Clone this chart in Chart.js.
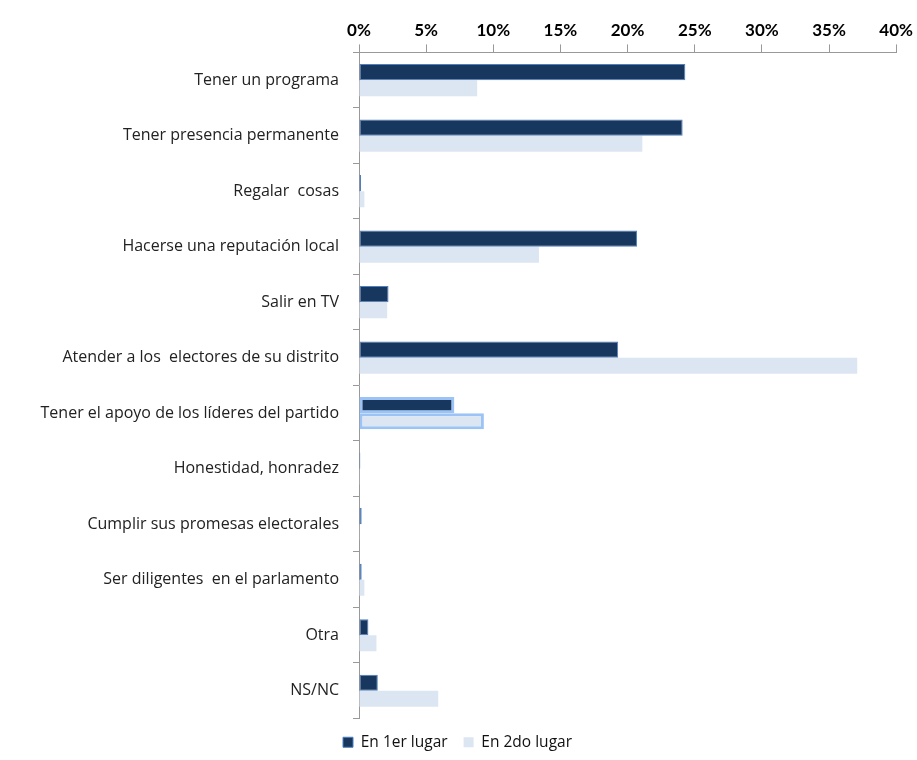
<!DOCTYPE html>
<html>
<head>
<meta charset="utf-8">
<script src="https://cdn.jsdelivr.net/npm/chart.js@4"></script>
<style>
  html, body { margin: 0; padding: 0; background: #fff; }
  #wrap { width: 917px; height: 760px; }
</style>
</head>
<body>
<div id="wrap"><canvas id="chart"></canvas></div>
<script>
const categories = [
    "Tener un programa",
    "Tener presencia permanente",
    "Regalar  cosas",
    "Hacerse una reputación local",
    "Salir en TV",
    "Atender a los  electores de su distrito",
    "Tener el apoyo de los líderes del partido",
    "Honestidad, honradez",
    "Cumplir sus promesas electorales",
    "Ser diligentes  en el parlamento",
    "Otra",
    "NS/NC",
];
const primerLugar = [24.3, 24.1, 0.15, 20.7, 2.2, 19.3, 7.1, 0.1, 0.2, 0.2, 0.7, 1.4];
const segundoLugar = [8.8, 21.1, 0.4, 13.4, 2.1, 37.1, 9.3, 0.05, 0.05, 0.4, 1.3, 5.9];
const seriesNames = ["En 1er lugar", "En 2do lugar"];

// resaltado del grupo seleccionado (Tener el apoyo...)
const sel = 6;
const bw = (base, hi) => categories.map((_, i) => (i === sel ? hi : base));

const ctx = document.getElementById("chart").getContext("2d");
new Chart(ctx, {
    type: "bar",
    data: {
        labels: categories,
        datasets: [
            {
                label: seriesNames[0],
                data: primerLugar,
                backgroundColor: "#17375E",
                borderColor: bw("#4F7FC0", "#9CC3F5"),
                borderWidth: bw(1, 3),
                borderSkipped: false,
                categoryPercentage: 0.58,
                barPercentage: 1,
            },
            {
                label: seriesNames[1],
                data: segundoLugar,
                backgroundColor: "#DCE6F2",
                borderColor: bw("#DCE6F2", "#9CC3F5"),
                borderWidth: bw(0, 3),
                borderSkipped: false,
                categoryPercentage: 0.58,
                barPercentage: 1,
            },
        ],
    },
    options: {
        indexAxis: "y",
        responsive: true,
        maintainAspectRatio: false,
        animation: false,
        layout: { padding: { top: 16, right: 2, left: 0, bottom: 0 } },
        plugins: {
            tooltip: { enabled: false },
            legend: {
                position: "bottom",
                labels: {
                    boxWidth: 10,
                    boxHeight: 10,
                    padding: 16,
                    color: "#111",
                    font: { family: "Open Sans", size: 15.5 },
                },
            },
        },
        scales: {
            x: {
                position: "top",
                min: 0,
                max: 40,
                ticks: {
                    stepSize: 5,
                    color: "#000",
                    padding: 4,
                    font: { family: "Lato", size: 17, weight: "bold" },
                    callback: (v) => v + "%",
                },
                grid: {
                    drawOnChartArea: false,
                    drawTicks: true,
                    tickLength: 8,
                    color: "#999",
                },
                border: { color: "#999" },
            },
            y: {
                afterFit: (scale) => { scale.width = 359; },
                ticks: {
                    color: "#222",
                    padding: 14,
                    font: { family: "Open Sans", size: 16 },
                },
                grid: {
                    offset: true,
                    drawOnChartArea: false,
                    drawTicks: true,
                    tickLength: 6,
                    color: "#999",
                },
                border: { color: "#999" },
            },
        },
    },
});
</script>
</body>
</html>
